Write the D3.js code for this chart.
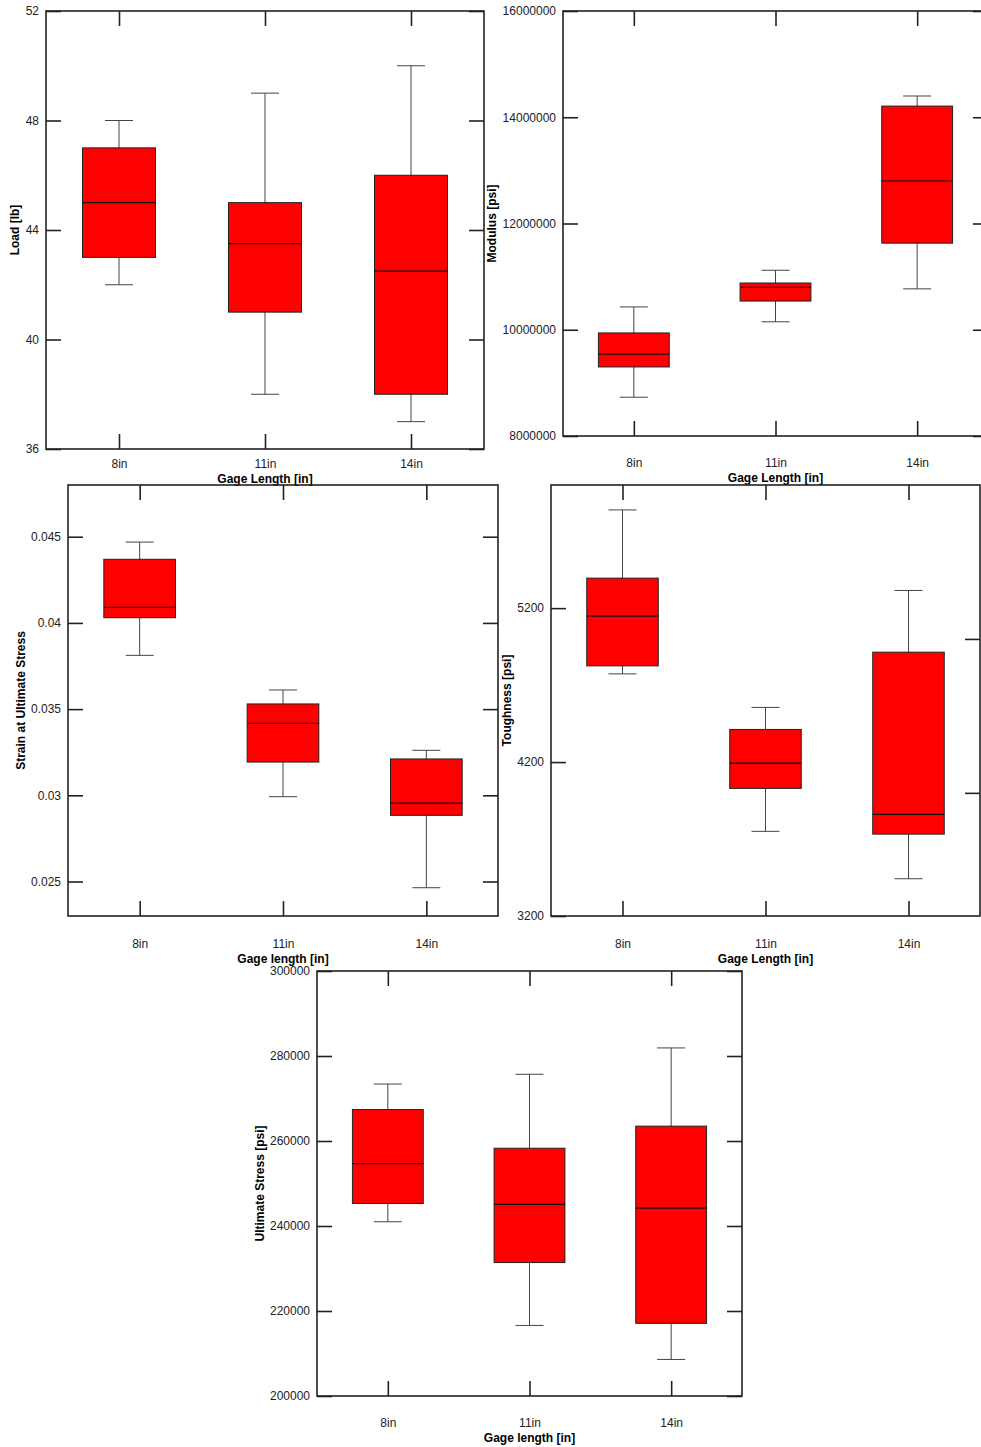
<!DOCTYPE html>
<html>
<head>
<meta charset="utf-8">
<script src="https://cdn.jsdelivr.net/npm/d3@7"></script>
<style>
  body { margin: 0; background: #fff; }
  svg { display: block; overflow: hidden; }
  text { font-family: "Liberation Sans", Arial, sans-serif; }
</style>
</head>
<body>
<div class="chart"></div>
<script>
const categories = ['8in', '11in', '14in']

// each row: [lower whisker, q1, median, q3, upper whisker]
const loadValues = [[42, 43, 45, 47, 48], [38, 41, 43.5, 45, 49], [37, 38, 42.5, 46, 50]]
const modulusValues = [
  [8730000, 9300000, 9540000, 9940000, 10430000],
  [10150000, 10540000, 10800000, 10880000, 11120000],
  [10770000, 11630000, 12800000, 14210000, 14400000]
]
const strainValues = [
  [0.03812, 0.0403, 0.04091, 0.04369, 0.04469],
  [0.02992, 0.03193, 0.03418, 0.0353, 0.03611],
  [0.02464, 0.02884, 0.02955, 0.03211, 0.03261]
]
const toughnessValues = [[4773, 4825, 5148, 5395, 5838], [3750, 4029, 4193, 4412, 4555], [3442, 3732, 3860, 4914, 5315]]
const stressValues = [
  [241000, 245300, 254700, 267400, 273400],
  [216600, 231400, 245100, 258300, 275700],
  [208600, 217100, 244200, 263500, 281900]
]

const loadTicks = [36, 40, 44, 48, 52]
const modulusTicks = [8000000, 10000000, 12000000, 14000000, 16000000]
const strainTicks = [0.025, 0.03, 0.035, 0.04, 0.045]
const toughnessTicks = [3200, 4200, 5200]
const toughnessRightTicks = [4000, 5000]
const stressTicks = [200000, 220000, 240000, 260000, 280000, 300000]

const svg = d3.select('.chart').append('svg')
  .attr('width', 981)
  .attr('height', 1447)

const drawPanel = (p) => {
  const g = svg.append('g').attr('transform', 'translate(' + p.left + ',' + p.top + ')')

  const x = d3.scalePoint().domain(categories).range([0, p.width]).padding(0.5)
  const y = d3.scaleLinear().domain(p.domain).range([p.height, 0])
  const boxW = x.step() * 0.5
  const capW = 28

  const rows = p.values.map((v, i) => ({ cat: categories[i], v: v }))

  // whiskers
  const wk = g.selectAll('.whisker').data(rows).enter().append('g')
  wk.append('line')
    .attr('x1', d => x(d.cat)).attr('x2', d => x(d.cat))
    .attr('y1', d => y(d.v[0])).attr('y2', d => y(d.v[4]))
    .attr('stroke', '#444').attr('stroke-width', 1)
  ;[0, 4].forEach(k => {
    wk.append('line')
      .attr('x1', d => x(d.cat) - capW / 2).attr('x2', d => x(d.cat) + capW / 2)
      .attr('y1', d => y(d.v[k])).attr('y2', d => y(d.v[k]))
      .attr('stroke', '#444').attr('stroke-width', 1)
  })

  // boxes
  g.selectAll('.box').data(rows).enter().append('rect')
    .attr('x', d => x(d.cat) - boxW / 2)
    .attr('width', boxW)
    .attr('y', d => y(d.v[3]))
    .attr('height', d => y(d.v[1]) - y(d.v[3]))
    .attr('fill', '#ff0000')
    .attr('stroke', '#222').attr('stroke-width', 1)

  g.selectAll('.median').data(rows).enter().append('line')
    .attr('x1', d => x(d.cat) - boxW / 2).attr('x2', d => x(d.cat) + boxW / 2)
    .attr('y1', d => y(d.v[2])).attr('y2', d => y(d.v[2]))
    .attr('stroke', '#111').attr('stroke-width', 1.2)

  // axes, ticks pointing inward
  const styleAxis = sel => {
    sel.select('.domain').remove()
    sel.selectAll('.tick line').attr('stroke', '#222').attr('stroke-width', 1.6)
    sel.selectAll('.tick text').attr('fill', '#222').style('font-size', '12px')
      .style('font-family', '"Liberation Sans", Arial, sans-serif')
  }

  g.append('g')
    .call(d3.axisLeft(y).tickValues(p.ticks).tickSize(-15).tickPadding(7).tickFormat(d3.format('')))
    .call(styleAxis)
  g.append('g')
    .attr('transform', 'translate(' + p.width + ',0)')
    .call(d3.axisRight(y).tickValues(p.rightTicks || p.ticks).tickSize(-15).tickFormat(''))
    .call(styleAxis)
  g.append('g')
    .call(d3.axisTop(x).tickSize(-15).tickFormat(''))
    .call(styleAxis)
  g.append('g')
    .attr('transform', 'translate(0,' + p.height + ')')
    .call(d3.axisBottom(x).tickSize(-15).tickPadding(p.xPad))
    .call(styleAxis)

  g.append('rect')
    .attr('width', p.width).attr('height', p.height)
    .attr('fill', 'none').attr('stroke', '#222').attr('stroke-width', 1.6)

  g.append('text')
    .attr('x', p.width / 2)
    .attr('y', p.height + p.xPad + 24)
    .attr('text-anchor', 'middle')
    .style('font-size', '12px').style('font-weight', 'bold')
    .text(p.xTitle)

  g.append('text')
    .attr('transform', 'translate(' + p.yTitleX + ',' + (p.height / 2) + ') rotate(-90)')
    .attr('dy', '0.35em')
    .attr('text-anchor', 'middle')
    .style('font-size', '12px').style('font-weight', 'bold')
    .text(p.yTitle)
}

drawPanel({ left: 46, top: 11, width: 438, height: 438, domain: [36, 52], ticks: loadTicks,
  values: loadValues, xPad: 10, xTitle: 'Gage Length [in]', yTitle: 'Load [lb]', yTitleX: -31 })
drawPanel({ left: 563, top: 11, width: 425, height: 425, domain: [8000000, 16000000], ticks: modulusTicks,
  values: modulusValues, xPad: 22, xTitle: 'Gage Length [in]', yTitle: 'Modulus [psi]', yTitleX: -71 })
drawPanel({ left: 68, top: 485, width: 430, height: 431, domain: [0.023, 0.048], ticks: strainTicks,
  values: strainValues, xPad: 23, xTitle: 'Gage length [in]', yTitle: 'Strain at Ultimate Stress', yTitleX: -47 })
drawPanel({ left: 551, top: 485, width: 429, height: 431, domain: [3200, 6000], ticks: toughnessTicks,
  rightTicks: toughnessRightTicks, values: toughnessValues, xPad: 23, xTitle: 'Gage Length [in]',
  yTitle: 'Toughness [psi]', yTitleX: -44 })
drawPanel({ left: 317, top: 971, width: 425, height: 425, domain: [200000, 300000], ticks: stressTicks,
  values: stressValues, xPad: 22, xTitle: 'Gage length [in]', yTitle: 'Ultimate Stress [psi]', yTitleX: -57 })
</script>
</body>
</html>
